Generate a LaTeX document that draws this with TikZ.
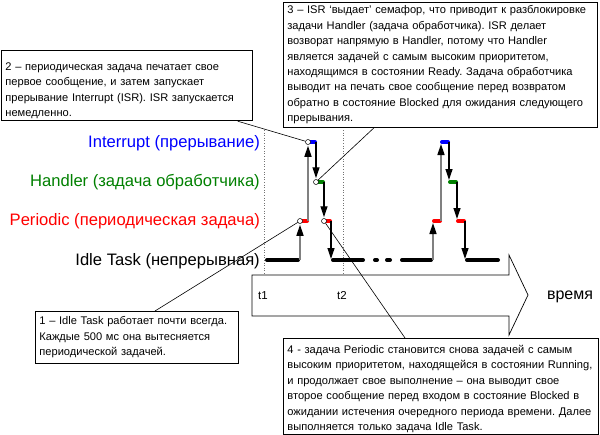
\documentclass[tikz,border=0pt]{standalone}
\usepackage{fontspec}
\setmainfont{Liberation Sans}
\usetikzlibrary{arrows.meta,calc}
\definecolor{intblue}{RGB}{0,0,255}
\definecolor{hgreen}{RGB}{0,128,0}
\definecolor{pred}{RGB}{255,0,0}
\definecolor{upgray}{RGB}{128,128,128}
\frenchspacing
\begin{document}
\begin{tikzpicture}[x=1pt,y=-1pt,
  callout/.style={draw=black, line width=0.8pt, fill=white, align=left, inner xsep=4pt, inner ysep=2pt,
    font=\fontsize{11.1}{15.4}\selectfont, anchor=north west},
  lvl/.style={anchor=east, inner sep=0pt, font=\fontsize{16.6}{19}\selectfont},
  conn/.style={draw=black, line width=0.6pt},
  idle/.style={draw=black, line width=4pt, line cap=round},
  pill/.style={line width=4pt, line cap=round},
  uparr/.style={draw=upgray, line width=1.6pt, -{Triangle[width=7pt,length=11pt,color=black]}, shorten >=1pt},
  dnarr/.style={draw=black, line width=1.2pt, -{Triangle[width=7pt,length=11pt]}, shorten >=1pt},
  ring/.style={circle, draw=black, line width=0.5pt, fill=white, inner sep=0pt, minimum size=5pt},
  guide/.style={draw=black!55, line width=0.6pt, dotted},
  small/.style={font=\fontsize{11.5}{13}\selectfont, inner sep=0pt}
]
\useasboundingbox (0,0) rectangle (600,434);

% level labels
\node[lvl, text=intblue] (lint) at (260,143) {Interrupt (прерывание)};
\node[lvl, text=hgreen] (lhan) at (260,182) {Handler (задача обработчика)};
\node[lvl, text=pred] (lper) at (260,221) {Periodic (периодическая задача)};
\node[lvl, text=black] (lidl) at (260,261) {Idle Task (непрерывная)};

% time guides
\coordinate (g1t) at (264,130); \coordinate (g1b) at (264,275);
\coordinate (g2t) at (343,130); \coordinate (g2b) at (343,275);
\draw[guide] (g1t) -- (g1b);
\draw[guide] (g2t) -- (g2b);

% time arrow
\draw[line width=0.7pt, fill=white] (252,275) -- (509,275) -- (509,255) -- (528,295) -- (509,335) -- (509,316) -- (252,316) -- cycle;
\node[small] (t1) at (263,296) {t1};
\node[small] (t2) at (342,296) {t2};
\node[font=\fontsize{16}{19}\selectfont, inner sep=0pt] (vremya) at (570,297) {время};

% idle segments
\draw[idle] (267,260) -- (298,260);
\draw[idle] (333,260) -- (363,260);
\draw[idle] (375,260) -- (377,260);
\draw[idle] (387,260) -- (390,260);
\draw[idle] (402,260) -- (431,260);
\draw[idle] (467,260) -- (498,260);

% pulse 1 coordinates
\coordinate (a0) at (300,260);
\coordinate (a1) at (308,221);
\coordinate (a2) at (316,142);
\coordinate (a3) at (324,182);
\coordinate (a4) at (331,221);
\coordinate (a5) at (331,260);
% pills pulse 1
\draw[pill, pred] (301,221) -- (307,221);
\draw[pill, intblue] (309,142) -- (315,142);
\draw[pill, hgreen] (317,182) -- (323,182);
\draw[pill, pred] (325,221) -- (330,221);
% rings
\node[ring] (c0) at (300,221) {};
\node[ring] (c1) at (308,142) {};
\node[ring] (c2) at (316,182) {};
\node[ring] (c3) at (324,221) {};
% arrows pulse 1
\draw[uparr] (a0) -- (c0);
\draw[uparr] (a1) -- (c1);
\draw[dnarr] (a2) -- (c2);
\draw[dnarr] (a3) -- (c3);
\draw[dnarr] (a4) -- (a5);

% pulse 2
\coordinate (b0) at (433,260); \coordinate (b0e) at (433,222);
\coordinate (b1) at (441,221); \coordinate (b1e) at (441,143);
\coordinate (b2) at (449,142); \coordinate (b2e) at (449,181);
\coordinate (b3) at (457,182); \coordinate (b3e) at (457,220);
\coordinate (b4) at (465,221); \coordinate (b4e) at (465,260);
\draw[pill, pred] (434,221) -- (440,221);
\draw[pill, intblue] (442,142) -- (448,142);
\draw[pill, hgreen] (450,182) -- (456,182);
\draw[pill, pred] (458,221) -- (464,221);
\draw[uparr] (b0) -- (b0e);
\draw[uparr] (b1) -- (b1e);
\draw[dnarr] (b2) -- (b2e);
\draw[dnarr] (b3) -- (b3e);
\draw[dnarr] (b4) -- (b4e);

% callouts
\node[callout, text width=243pt, minimum height=70pt] (n2) at (1,50) {\rule{0pt}{18pt}2 – периодическая задача печатает свое\\первое сообщение, и затем запускает\\прерывание Interrupt (ISR). ISR запускается\\немедленно.};
\node[callout, text width=306pt, minimum height=125pt] (n3) at (283,2) {3 – ISR ‘выдает’ семафор, что приводит к разблокировке\\задачи Handler (задача обработчика). ISR делает\\возворат напрямую в Handler, потому что Handler\\является задачей с самым высоким приоритетом,\\находящимся в состоянии Ready. Задача обработчика\\выводит на печать свое сообщение перед возвратом\\обратно в состояние Blocked для ожидания следующего\\прерывания.};
\node[callout, text width=195pt, minimum height=52pt] (n1) at (35,311) {1 – Idle Task работает почти всегда.\\Каждые 500 мс она вытесняется\\периодической задачей.};
\node[callout, text width=307pt, minimum height=92pt] (n4) at (283,338) {\rule{0pt}{13pt}4 - задача Periodic становится снова задачей с самым\\высоким приоритетом, находящейся в состоянии Running,\\и продолжает свое выполнение – она выводит свое\\второе сообщение перед входом в состояние Blocked в\\ожидании истечения очередного периода времени. Далее\\выполняется только задача Idle Task.};

% callout connectors
\draw[conn] ([xshift=-15pt]n2.south east) -- (c1);
\draw[conn] ($(n3.south west)+(91,0)$) -- (c2);
\draw[conn] ($(n1.north west)+(120,0)$) -- (c0);
\draw[conn] ($(n4.north west)+(122,0)$) -- (c3);
\end{tikzpicture}
\end{document}
